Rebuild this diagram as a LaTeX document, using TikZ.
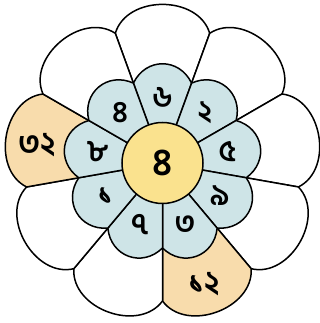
\documentclass[tikz,border=0pt]{standalone}
\usepackage{fontspec}
\newfontfamily\bn[Script=Bengali]{Hind Siliguri}
\definecolor{petalblue}{RGB}{206,228,231}
\definecolor{petalorange}{RGB}{248,220,172}
\definecolor{centeryellow}{RGB}{250,226,142}
\tikzset{
  outerpetal/.style={draw=black, line width=1.5pt, line join=round},
  innerpetal/.style={draw=black, fill=petalblue, line width=1.5pt, line join=round},
  digit/.style={font=\bn\bfseries\fontsize{30}{30}\selectfont, inner sep=0pt},
  bigdigit/.style={font=\bn\bfseries\fontsize{32}{32}\selectfont, inner sep=0pt},
}
\begin{document}
\begin{tikzpicture}[x=1pt,y=1pt]
\useasboundingbox (-162.5,-160) rectangle (157.5,163);
% outer petals
\foreach \a/\c in {90/white,50/white,10/white,-30/white,-70/petalorange,-110/white,-150/white,170/petalorange,130/white}
  \filldraw[outerpetal, fill=\c] (0,0) -- ({\a-20}:138) .. controls ({\a-12}:172) and ({\a+12}:172) .. ({\a+20}:138) -- cycle;
% inner petals
\foreach \a in {90,50,10,-30,-70,-110,-150,170,130}
  \filldraw[innerpetal] (0,0) -- ({\a-20}:85) .. controls ({\a-9}:107) and ({\a+9}:107) .. ({\a+20}:85) -- cycle;
% centre
\node[circle, draw=black, line width=1.5pt, fill=centeryellow, minimum size=81pt, inner sep=0pt,
      font=\bn\bfseries\fontsize{38}{38}\selectfont] (c) at (0,0) {৪};
% inner digits
\node[digit] (d6) at (90:66) {৬};
\node[digit] (d2) at (50:66) {২};
\node[digit] (d5) at (10:66) {৫};
\node[digit] (d9) at (-30:66) {৯};
\node[digit] (d3) at (-70:66) {৩};
\node[digit] (d7) at (-110:66) {৭};
\node[digit] (d1) at (-150:66) {১};
\node[digit] (d8) at (170:66) {৮};
\node[digit] (d4) at (130:66) {৪};
% outer numbers
\node[bigdigit] (n32) at (172:127) {৩২};
\node[bigdigit] (n12) at (-71:128) {১২};
\end{tikzpicture}
\end{document}
